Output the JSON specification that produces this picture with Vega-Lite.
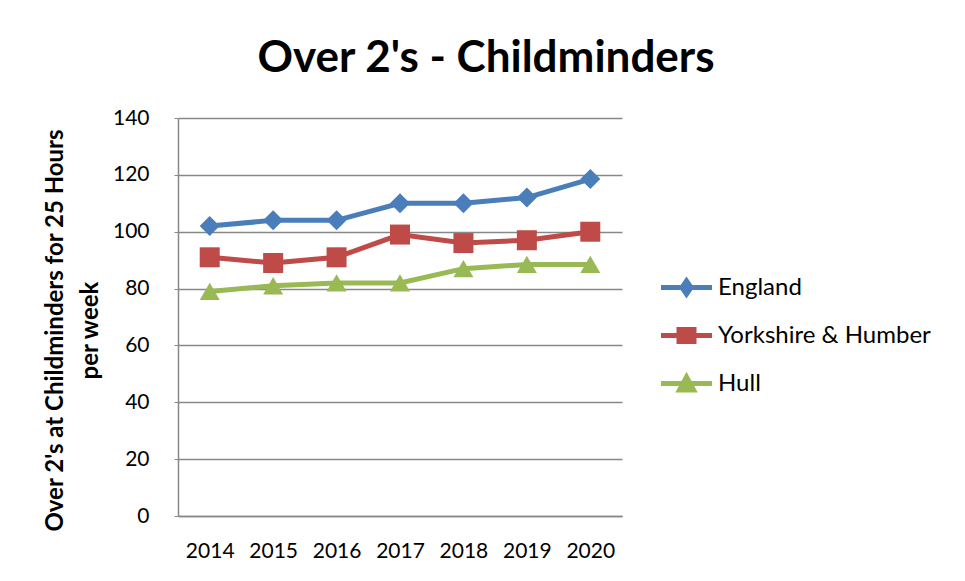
{
  "$schema": "https://vega.github.io/schema/vega-lite/v6.json",
  "width": 444,
  "height": 398,
  "autosize": {"type": "none"},
  "padding": {"left": 178, "top": 118, "right": 343, "bottom": 65},
  "background": "white",
  "config": {
    "font": "Lato",
    "view": {"stroke": null},
    "axis": {"labelFont": "Lato", "titleFont": "Lato"}
  },
  "title": {
    "text": "Over 2's - Childminders",
    "fontSize": 44,
    "fontWeight": "bold",
    "font": "Lato",
    "color": "black",
    "anchor": "middle",
    "offset": 26,
    "dx": 86
  },
  "data": {
    "values": [
      {"year": "2014", "region": "England", "value": 102},
      {"year": "2015", "region": "England", "value": 104},
      {"year": "2016", "region": "England", "value": 104},
      {"year": "2017", "region": "England", "value": 110},
      {"year": "2018", "region": "England", "value": 110},
      {"year": "2019", "region": "England", "value": 112},
      {"year": "2020", "region": "England", "value": 118.5},
      {"year": "2014", "region": "Yorkshire & Humber", "value": 91},
      {"year": "2015", "region": "Yorkshire & Humber", "value": 89},
      {"year": "2016", "region": "Yorkshire & Humber", "value": 91},
      {"year": "2017", "region": "Yorkshire & Humber", "value": 99},
      {"year": "2018", "region": "Yorkshire & Humber", "value": 96},
      {"year": "2019", "region": "Yorkshire & Humber", "value": 97},
      {"year": "2020", "region": "Yorkshire & Humber", "value": 100},
      {"year": "2014", "region": "Hull", "value": 79},
      {"year": "2015", "region": "Hull", "value": 81},
      {"year": "2016", "region": "Hull", "value": 82},
      {"year": "2017", "region": "Hull", "value": 82},
      {"year": "2018", "region": "Hull", "value": 87},
      {"year": "2019", "region": "Hull", "value": 88.5},
      {"year": "2020", "region": "Hull", "value": 88.5}
    ]
  },
  "encoding": {
    "x": {
      "field": "year",
      "type": "ordinal",
      "scale": {"type": "point", "padding": 0.5},
      "axis": {
        "title": null,
        "labelAngle": 0,
        "labelFontSize": 21,
        "labelColor": "black",
        "labelPadding": 24,
        "ticks": false,
        "domainColor": "#888888",
        "domainWidth": 1.5
      }
    },
    "y": {
      "field": "value",
      "type": "quantitative",
      "scale": {"domain": [0, 140]},
      "axis": {
        "values": [0, 20, 40, 60, 80, 100, 120, 140],
        "title": ["Over 2's at Childminders for 25 Hours", "per week"],
        "titleFontSize": 24,
        "titleFontWeight": "bold",
        "titleColor": "black",
        "titlePadding": 10,
        "titleLineHeight": 35,
        "titleY": 212,
        "labelFontSize": 21,
        "labelColor": "black",
        "labelPadding": 25,
        "tickColor": "#888888",
        "tickSize": 4,
        "domainColor": "#888888",
        "domainWidth": 1.5,
        "gridColor": "#888888",
        "gridWidth": 1.5
      }
    },
    "color": {
      "field": "region",
      "type": "nominal",
      "sort": ["England", "Yorkshire & Humber", "Hull"],
      "scale": {
        "domain": ["England", "Yorkshire & Humber", "Hull"],
        "range": ["#4A7EBB", "#BE4B48", "#98B954"]
      },
      "legend": {
        "title": null,
        "orient": "none",
        "legendX": 496,
        "legendY": 157,
        "labelFontSize": 24,
        "labelColor": "black",
        "labelLimit": 320,
        "rowPadding": 15,
        "symbolSize": 400,
        "symbolStrokeWidth": 5,
        "symbolOpacity": 1,
        "labelOffset": 19
      }
    }
  },
  "layer": [
    {"mark": {"type": "line", "strokeWidth": 5}},
    {
      "mark": {"type": "point", "filled": true, "opacity": 1, "size": 400},
      "encoding": {
        "shape": {
          "condition": [
            {"test": "datum.region === 'England'", "value": "diamond"},
            {"test": "datum.region === 'Hull'", "value": "triangle-up"}
          ],
          "value": "square"
        }
      }
    },
    {
      "transform": [{"filter": "datum.value < 0"}],
      "mark": {"type": "point", "filled": true, "opacity": 1, "size": 400},
      "encoding": {
        "shape": {
          "field": "region",
          "type": "nominal",
          "scale": {
            "domain": ["England", "Yorkshire & Humber", "Hull"],
            "range": [
              "M-2.55,0H2.55M0,-0.65L0.45,0L0,0.65L-0.45,0Z",
              "M-2.55,0H2.55M-0.75,-0.6H0.75V0.6H-0.75Z",
              "M-2.55,0H2.55M0,-0.65L0.7,0.65H-0.7Z"
            ]
          }
        }
      }
    }
  ]
}
